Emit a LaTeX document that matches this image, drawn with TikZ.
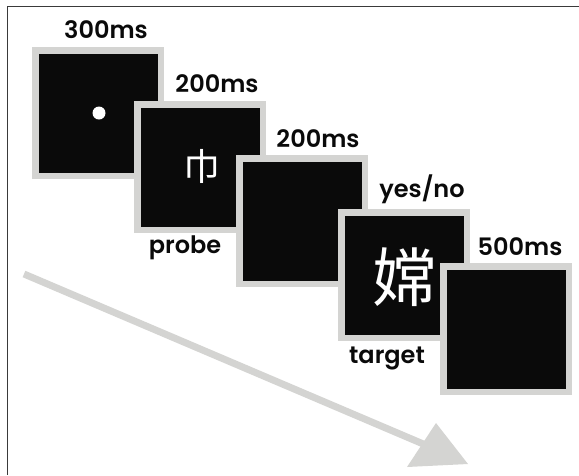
\documentclass[tikz,border=0pt]{standalone}
\usepackage{fontspec}
\setmainfont{Poppins}[UprightFont=* SemiBold]
\newfontfamily\cjk{Noto Sans CJK SC}
\definecolor{framegray}{HTML}{3A3A3A}
\definecolor{boxgray}{HTML}{D4D4D2}
\definecolor{boxblack}{HTML}{0A0A0A}
\begin{document}
\begin{tikzpicture}[x=1pt,y=-1pt,
  screen/.style={draw=boxgray, line width=6.5pt, fill=boxblack, minimum width=125.5pt, minimum height=125.5pt, inner sep=0pt, text=white},
  lbl/.style={anchor=base, inner sep=0pt, font=\fontsize{24}{24}\selectfont, text=boxblack},
  timeline/.style={draw=boxgray, line width=7pt}]
\useasboundingbox (0,0) rectangle (579,475);
\draw[framegray, line width=1.6pt] (7.5,475) -- (7.5,6.5) -- (579,6.5);
% timeline arrow
\coordinate (a0) at (24,274);
\coordinate (a1) at (428,446);
\coordinate (t1) at (436,423);
\coordinate (t2) at (407,467);
\coordinate (t3) at (468,464);
\draw[timeline] (a0) -- (a1);
\fill[boxgray] (t1) -- (t2) -- (t3) -- cycle;
% screens
\node[screen] (s1) at (98,113) {};
\fill[white] (99,113) circle (6.5pt);
\node[screen] (s2) at (200,167) {};
\node[text=white, font=\cjk\fontsize{37}{37}\selectfont, inner sep=0pt] (c1) at (202,166) {巾};
\node[screen] (s3) at (302,221) {};
\node[screen] (s4) at (404,275) {};
\node[text=white, font=\cjk\fontsize{64}{64}\selectfont, inner sep=0pt] (c2) at (404,277) {嫦};
\node[screen] (s5) at (506,329) {};
% labels
\node[lbl] (l1) at (106,38) {300ms};
\node[lbl] (l2) at (217,92) {200ms};
\node[lbl] (l3) at (318,147) {200ms};
\node[lbl] (l4) at (422,197) {yes/no};
\node[lbl] (l5) at (520,255) {500ms};
\node[lbl] (l6) at (185,253) {probe};
\node[lbl] (l7) at (387,363) {target};
\end{tikzpicture}
\end{document}
